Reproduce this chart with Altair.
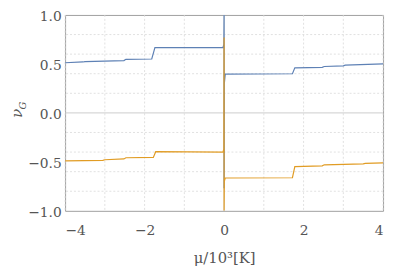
import altair as alt
import pandas as pd

# Blue series (nu_G, upper branch for mu<0)
blue_x = [-4.0, -3.55, -3.5, -2.52, -2.47, -1.82, -1.74, -0.03, -0.006, 0.0,
          0.0, 0.006, 0.03, 1.72, 1.78, 2.47, 2.52, 3.0, 3.05, 4.0]
blue_y = [0.512, 0.520, 0.523, 0.534, 0.547, 0.550, 0.667, 0.667, 0.70, 1.0,
          -0.77, 0.30, 0.395, 0.40, 0.46, 0.465, 0.474, 0.48, 0.487, 0.50]

# Orange series
orange_x = [-4.0, -3.05, -3.0, -2.52, -2.47, -1.78, -1.72, -0.03, -0.006, 0.0,
            0.0, 0.006, 0.03, 1.72, 1.78, 2.47, 2.52, 3.5, 3.55, 4.0]
orange_y = [-0.49, -0.485, -0.478, -0.470, -0.458, -0.455, -0.396, -0.40, -0.37, 0.77,
            -1.0, -0.70, -0.665, -0.662, -0.548, -0.540, -0.530, -0.520, -0.515, -0.51]

x_grid = [-4, -3, -2, -1, 1, 2, 3, 4]
y_grid = [-0.8, -0.6, -0.4, -0.2, 0.2, 0.4, 0.6, 0.8]
x_ticks = [-4, -2, 0, 2, 4]
y_ticks = [-1.0, -0.5, 0.0, 0.5, 1.0]

blue = pd.DataFrame({"x": blue_x, "y": blue_y, "i": range(len(blue_x))})
orange = pd.DataFrame({"x": orange_x, "y": orange_y, "i": range(len(orange_x))})
xg = pd.DataFrame({"x": x_grid})
yg = pd.DataFrame({"y": y_grid})
zero = pd.DataFrame({"v": [0.0]})
sub = pd.DataFrame({"t": ["G"]})

FONT = "DejaVu Serif"
TXT = "#555555"

xscale = alt.Scale(domain=[-4, 4], nice=False, zero=False)
yscale = alt.Scale(domain=[-1, 1], nice=False, zero=False)
xaxis = alt.Axis(values=x_ticks, format="d", grid=False, ticks=False, domain=False,
                 labelPadding=13, title="μ/10³[K]", titlePadding=13)
yaxis = alt.Axis(values=y_ticks, format=".1f", grid=False, ticks=False, domain=False,
                 labelPadding=4, labelOffset=2, title="ν", titlePadding=3)

X = lambda f: alt.X(f"{f}:Q", scale=xscale, axis=xaxis)
Y = lambda f: alt.Y(f"{f}:Q", scale=yscale, axis=yaxis)

vgrid = alt.Chart(xg).mark_rule(color="#d9d9d9", strokeDash=[2, 2], strokeWidth=0.8).encode(x=X("x"))
hgrid = alt.Chart(yg).mark_rule(color="#d9d9d9", strokeDash=[2, 2], strokeWidth=0.8).encode(y=Y("y"))
vzero = alt.Chart(zero).mark_rule(color="#cccccc", strokeWidth=1).encode(x=X("v"))
hzero = alt.Chart(zero).mark_rule(color="#cccccc", strokeWidth=1).encode(y=Y("v"))

lb = alt.Chart(blue).mark_line(color="#5E81B5", strokeWidth=1.2, clip=True).encode(
    x=X("x"), y=Y("y"), order="i:Q")
lo = alt.Chart(orange).mark_line(color="#E19C24", strokeWidth=1.2, clip=True).encode(
    x=X("x"), y=Y("y"), order="i:Q")

# subscript G of the y-axis title
gsub = alt.Chart(sub).mark_text(font=FONT, fontSize=10, fontStyle="italic", color=TXT,
                                angle=270, clip=False).encode(
    text="t:N", x=alt.value(-43), y=alt.value(92))

chart = alt.layer(vgrid, hgrid, vzero, hzero, lb, lo, gsub).properties(
    width=323, height=199,
    autosize=alt.AutoSizeParams(type="none"),
    padding={"left": 58, "top": 5, "right": 4, "bottom": 56},
).configure(font=FONT).configure_axis(
    labelFont=FONT, labelFontSize=14, labelColor=TXT,
    titleFont=FONT, titleFontSize=15, titleColor=TXT, titleFontWeight="normal",
).configure_axisY(titleFontStyle="italic", titleFontSize=15
).configure_view(stroke="#a0a0a0", strokeWidth=1)

chart.save("out.html", embed_options={"renderer": "svg", "actions": False})
